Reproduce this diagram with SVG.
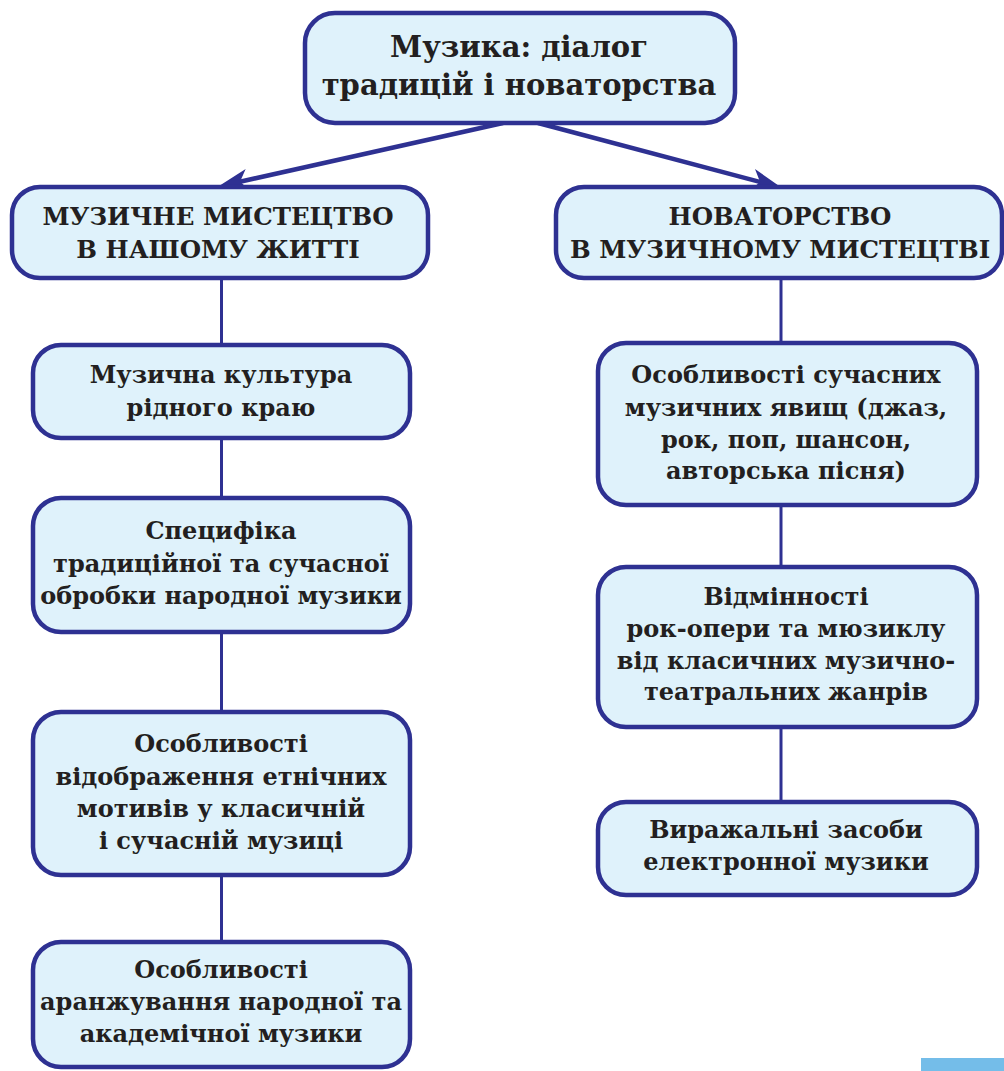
<svg xmlns="http://www.w3.org/2000/svg" width="1004" height="1071" viewBox="0 0 1004 1071">
<style>
.box{fill:#dff2fb;stroke:#2e3192;stroke-width:4.5}
.ln{stroke:#2e3192;stroke-width:3;fill:none}
.ar{stroke:#2e3192;stroke-width:4.5;fill:none}
text{font-family:"DejaVu Serif","Liberation Serif",serif;font-weight:bold;fill:#231f20;text-anchor:middle}
.t{font-size:29px}
.h{font-size:24.5px}
.n{font-size:24px}
</style>
<defs>
<marker id="ah" markerUnits="userSpaceOnUse" markerWidth="40" markerHeight="30" viewBox="-14 -12 34 24" refX="0" refY="0" orient="auto" overflow="visible">
<path d="M16,0 L-10,-9.5 L-3,0 L-10,9.5 Z" fill="#2e3192"/>
</marker>
</defs>
<g id="connectors">
<line class="ar" x1="503" y1="123" x2="236.6" y2="182.5" marker-end="url(#ah)"/>
<line class="ar" x1="538" y1="123" x2="763.5" y2="182.9" marker-end="url(#ah)"/>
<line class="ln" x1="221.5" y1="278" x2="221.5" y2="345"/>
<line class="ln" x1="221.5" y1="438" x2="221.5" y2="498"/>
<line class="ln" x1="221.5" y1="632" x2="221.5" y2="712"/>
<line class="ln" x1="221.5" y1="875" x2="221.5" y2="942"/>
<line class="ln" x1="781" y1="278" x2="781" y2="343"/>
<line class="ln" x1="781" y1="505" x2="781" y2="567"/>
<line class="ln" x1="781" y1="727" x2="781" y2="802"/>
</g>
<g id="root">
<rect class="box" x="305" y="13" width="430" height="110" rx="30"/>
<text class="t" x="519" y="57">Музика: діалог</text>
<text class="t" x="519" y="95">традицій і новаторства</text>
</g>
<g id="left-head">
<rect class="box" x="12" y="187" width="416" height="91" rx="28"/>
<text class="h" x="218" y="225">МУЗИЧНЕ МИСТЕЦТВО</text>
<text class="h" x="218" y="258">В НАШОМУ ЖИТТІ</text>
</g>
<g id="right-head">
<rect class="box" x="556" y="187" width="446" height="91" rx="28"/>
<text class="h" x="780" y="225">НОВАТОРСТВО</text>
<text class="h" x="780" y="258">В МУЗИЧНОМУ МИСТЕЦТВІ</text>
</g>
<g id="l1">
<rect class="box" x="33" y="345" width="377" height="93" rx="28"/>
<text class="n" x="221" y="383">Музична культура</text>
<text class="n" x="221" y="416">рідного краю</text>
</g>
<g id="l2">
<rect class="box" x="33" y="498" width="377" height="134" rx="28"/>
<text class="n" x="221" y="539">Специфіка</text>
<text class="n" x="221" y="572">традиційної та сучасної</text>
<text class="n" x="221" y="604">обробки народної музики</text>
</g>
<g id="l3">
<rect class="box" x="33" y="712" width="377" height="163" rx="28"/>
<text class="n" x="221" y="752">Особливості</text>
<text class="n" x="221" y="785">відображення етнічних</text>
<text class="n" x="221" y="817">мотивів у класичній</text>
<text class="n" x="221" y="849">і сучасній музиці</text>
</g>
<g id="l4">
<rect class="box" x="33" y="942" width="377" height="125" rx="28"/>
<text class="n" x="221" y="978">Особливості</text>
<text class="n" x="221" y="1010">аранжування народної та</text>
<text class="n" x="221" y="1042">академічної музики</text>
</g>
<g id="r1">
<rect class="box" x="598" y="343" width="379" height="162" rx="28"/>
<text class="n" x="786" y="383">Особливості сучасних</text>
<text class="n" x="786" y="416">музичних явищ (джаз,</text>
<text class="n" x="786" y="448">рок, поп, шансон,</text>
<text class="n" x="786" y="479">авторська пісня)</text>
</g>
<g id="r2">
<rect class="box" x="598" y="567" width="379" height="160" rx="28"/>
<text class="n" x="786" y="605">Відмінності</text>
<text class="n" x="786" y="637">рок-опери та мюзиклу</text>
<text class="n" x="786" y="669">від класичних музично-</text>
<text class="n" x="786" y="700">театральних жанрів</text>
</g>
<g id="r3">
<rect class="box" x="598" y="802" width="379" height="93" rx="28"/>
<text class="n" x="786" y="838">Виражальні засоби</text>
<text class="n" x="786" y="870">електронної музики</text>
</g>
<rect x="921" y="1058" width="83" height="13" fill="#74bde9"/>
</svg>
